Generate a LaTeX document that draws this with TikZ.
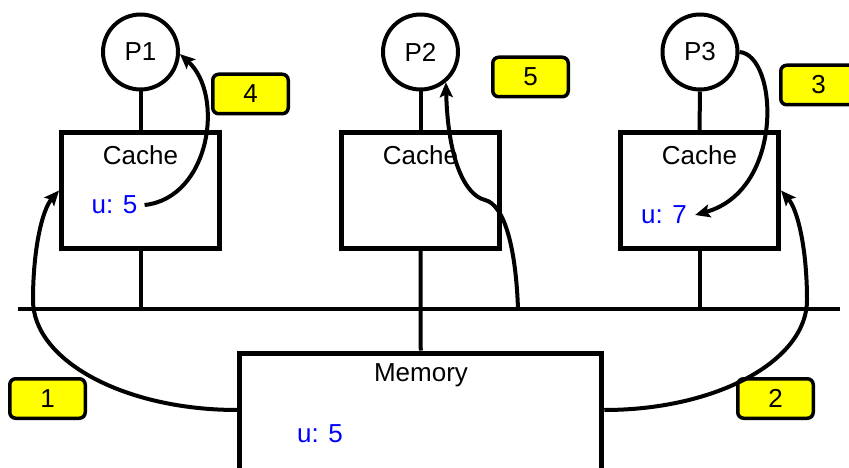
\documentclass[tikz,border=0pt]{standalone}
\usepackage{fontspec}
\setmainfont{Liberation Sans}
\usetikzlibrary{arrows.meta}
\definecolor{uyellow}{RGB}{255,255,0}
\definecolor{ublue}{RGB}{0,0,255}
\begin{document}
\begin{tikzpicture}[x=1pt,y=-1pt,
  every node/.style={font=\fontsize{26}{31}\selectfont},
  proc/.style={circle,draw,line width=4pt,minimum size=75pt,inner sep=0pt},
  cachebox/.style={draw,line width=5pt,minimum width=158pt,minimum height=116pt,inner sep=0pt},
  membox/.style={draw,line width=5pt,minimum width=362pt,minimum height=140pt,inner sep=0pt},
  tag/.style={draw,fill=uyellow,line width=3.5pt,rounded corners=6pt,minimum width=75.5pt,minimum height=39.5pt,inner sep=0pt},
  val/.style={text=ublue,inner sep=0pt},
  lbl/.style={inner sep=0pt},
  wire/.style={line width=4pt},
  busline/.style={line width=4.5pt},
  flow/.style={line width=4pt,-{Stealth[length=15pt,width=13pt,inset=3pt]}}]
\useasboundingbox (0,0) rectangle (849,468);
\clip (0,0) rectangle (849,468);
\fill[white] (0,0) rectangle (849,468);
% processors
\node[proc] (P1) at (140.5,52) {P1};
\node[proc] (P2) at (420.5,52) {P2};
\node[proc] (P3) at (700,52) {P3};
% caches
\node[cachebox] (C1) at (140.5,190.5) {};
\node[cachebox] (C2) at (420.5,190.5) {};
\node[cachebox] (C3) at (699.5,190.5) {};
\node[lbl] (C1t) at (140.5,155.5) {Cache};
\node[lbl] (C2t) at (420.5,155.5) {Cache};
\node[lbl] (C3t) at (699.5,155.5) {Cache};
\node[val] (u1) at (114.5,205) {u: 5};
\node[val] (u3) at (664,215) {u: 7};
% memory
\node[membox] (M) at (420.75,423) {};
\node[lbl] (Mt) at (421,375) {Memory};
\node[val] (um) at (320,434) {u: 5};
% bus
\coordinate (BL) at (18,309);
\coordinate (BR) at (840,309);
\coordinate (B5) at (518,309);
\draw[busline] (BL) -- (BR);
\draw[wire] (P1.south) -- (C1.north);
\draw[wire] (P2.south) -- (C2.north);
\draw[wire] (P3.south) -- (C3.north);
\draw[wire] (C1.south) -- (C1.south |- BL);
\draw[wire] (C3.south) -- (C3.south |- BL);
\draw[wire] (C2.south) -- (M.north);
% tags
\node[tag] (T1) at (47.5,398.5) {1};
\node[tag] (T2) at (775.5,398.5) {2};
\node[tag] (T3) at (818.5,85) {3};
\node[tag] (T4) at (250.5,94) {4};
\node[tag] (T5) at (530.5,77) {5};
% flows
\draw[flow] ([yshift=13pt]M.west) .. controls (125,410) and (33,361) .. (33,300)
  .. controls (33,250) and (42,210) .. (C1.west);
\draw[flow] ([yshift=13pt]M.east) .. controls (716,410) and (807,361) .. (807,300)
  .. controls (807,250) and (798,210) .. (C3.east);
\draw[flow] (P3.east) .. controls (778,55) and (785,190) .. ([xshift=8pt]u3.east);
\draw[flow] ([xshift=7pt]u1.east) .. controls (210,198) and (225,95) .. (P1.-3);
\draw[flow] (B5) .. controls (516,250) and (505,205) .. (485,200)
  .. controls (465,195) and (448,160) .. (P2.-50);
\end{tikzpicture}
\end{document}
